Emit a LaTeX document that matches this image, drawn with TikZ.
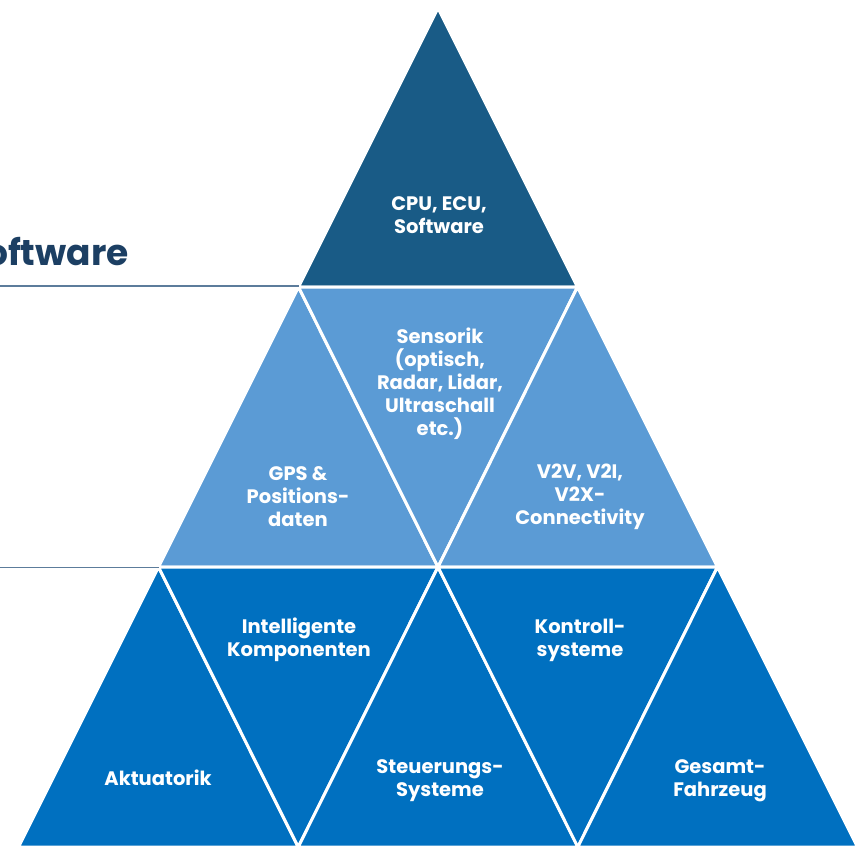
\documentclass[tikz,border=0pt]{standalone}
\usepackage{fontspec}
\setmainfont{Poppins}
\definecolor{topblue}{HTML}{195B86}
\definecolor{midblue}{HTML}{5B9BD5}
\definecolor{lowblue}{HTML}{0070C0}
\definecolor{navy}{HTML}{1C3F63}
\definecolor{rulecol}{HTML}{5C7C9B}
\begin{document}
\begin{tikzpicture}[x=1pt,y=-1pt,
  piece/.style={draw=white,line width=3pt,line join=round},
  lbl/.style={text=white,align=center,font=\bfseries\fontsize{19.5}{23}\selectfont,inner sep=0pt},
  sepline/.style={draw=rulecol,line width=1.8pt}]
\useasboundingbox (0,0) rectangle (858,845);
\clip (0,0) rectangle (858,845);
% corner points
\coordinate (A) at (438,8);
\coordinate (L1) at (298.5,287);
\coordinate (R1) at (577.5,287);
\coordinate (L2) at (158.5,567);
\coordinate (M2) at (438,567);
\coordinate (R2) at (717.5,567);
\coordinate (B0) at (18.5,847);
\coordinate (B1) at (298.2,847);
\coordinate (B2) at (577.8,847);
\coordinate (B3) at (857.5,847);
% top
\fill[piece,fill=topblue] (A) -- (L1) -- (R1) -- cycle;
% middle row
\fill[piece,fill=midblue] (L1) -- (L2) -- (M2) -- cycle;
\fill[piece,fill=midblue] (L1) -- (R1) -- (M2) -- cycle;
\fill[piece,fill=midblue] (R1) -- (M2) -- (R2) -- cycle;
% bottom row
\fill[piece,fill=lowblue] (L2) -- (B0) -- (B1) -- cycle;
\fill[piece,fill=lowblue] (L2) -- (M2) -- (B1) -- cycle;
\fill[piece,fill=lowblue] (M2) -- (B1) -- (B2) -- cycle;
\fill[piece,fill=lowblue] (M2) -- (R2) -- (B2) -- cycle;
\fill[piece,fill=lowblue] (R2) -- (B2) -- (B3) -- cycle;
% side rules
\coordinate (S1) at (0,286);
\coordinate (S2) at (0,567.5);
\draw[sepline] (S1) -- (L1 |- S1);
\draw[sepline] (S2) -- (L2 |- S2);
\node[anchor=base east,text=navy,font=\bfseries\fontsize{36}{44}\selectfont,inner sep=0pt] (sw) at (129,265) {Software};
% labels
\node[lbl] (cpu) at (439,215) {CPU, ECU,\\Software};
\node[lbl] (sens) at (440,384) {Sensorik\\(optisch,\\Radar, Lidar,\\Ultraschall\\etc.)};
\node[lbl] (gps) at (298,497) {GPS \&\\Positions-\\daten};
\node[lbl] (v2v) at (580,497) {V2V, V2I,\\V2X-\\Connectivity};
\node[lbl] (intel) at (299,640) {Intelligente\\Komponenten};
\node[lbl] (kontr) at (580,640) {Kontroll-\\systeme};
\node[lbl] (akt) at (158,778) {Aktuatorik};
\node[lbl] (steu) at (440,781) {Steuerungs-\\Systeme};
\node[lbl] (ges) at (720,781) {Gesamt-\\Fahrzeug};
\end{tikzpicture}
\end{document}
